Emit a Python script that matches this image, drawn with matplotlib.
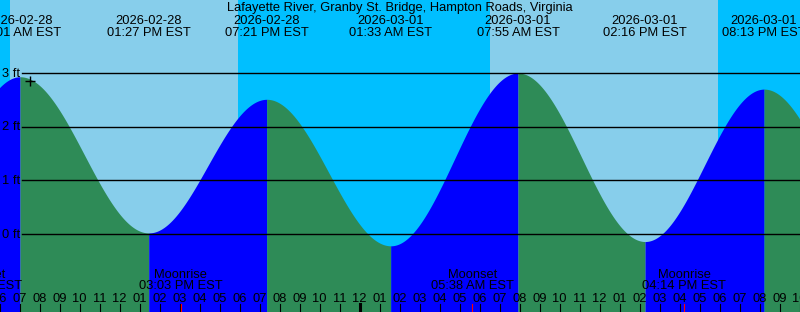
import numpy as np
import pandas as pd
import matplotlib
matplotlib.use("Agg")
import matplotlib.pyplot as plt

title = "Lafayette River, Granby St. Bridge, Hampton Roads, Virginia"

# tide extremes (first and last are off the chart, only used for the curve ends)
tide_times = ["2026-02-28 00:45", "2026-02-28 07:01", "2026-02-28 13:27",
              "2026-02-28 19:21", "2026-03-01 01:33", "2026-03-01 07:55",
              "2026-03-01 14:16", "2026-03-01 20:13", "2026-03-02 02:30"]
tide_heights = [-0.2, 2.93, 0.02, 2.51, -0.22, 3.0, -0.14, 2.70, -0.3]
tide_labelled = [False, True, True, True, True, True, True, True, False]

sunrises = ["2026-02-28 06:31", "2026-03-01 06:30"]
sunsets = ["2026-02-28 17:55", "2026-03-01 17:56"]

moon_times = ["2026-02-28 05:04", "2026-02-28 15:03",
              "2026-03-01 05:38", "2026-03-01 16:14"]
moon_kinds = ["Moonset", "Moonrise", "Moonset", "Moonrise"]

ft_levels = [0, 1, 2, 3]
now_time = "2026-02-28 07:31"
now_height = 2.86

origin = pd.Timestamp("2026-02-28 00:00")


def hrs(s):
    return (pd.Timestamp(s) - origin).total_seconds() / 3600


W, H = 800, 312
x_left = 6.015
x_right = x_left + 40
y_bot, y_top = -1.453, 4.36

day_col = "#87CEEB"
night_col = "#00BFFF"
flood_col = "#0000FF"
ebb_col = "#2E8B57"

plt.rcParams['font.family'] = ['Liberation Sans', 'DejaVu Sans']
fs = 9.3

fig = plt.figure(figsize=(W / 100, H / 100), dpi=100)
ax = fig.add_axes([0, 0, 1, 1])
ax.set_xlim(x_left, x_right)
ax.set_ylim(y_bot, y_top)
ax.axis("off")
fig.patch.set_facecolor(day_col)

# night shading
rise_h = [hrs(s) for s in sunrises]
set_h = [hrs(s) for s in sunsets]
starts = [x_left] + set_h
ends = rise_h + [x_right]
for a, b in zip(starts, ends):
    ax.axvspan(a, b, color=night_col, lw=0, zorder=0)

# tide curve, one segment per rise/fall
th = [hrs(s) for s in tide_times]
for i in range(len(th) - 1):
    t1, t2 = th[i], th[i + 1]
    h1, h2 = tide_heights[i], tide_heights[i + 1]
    t = np.linspace(t1, t2, 300)
    h = (h1 + h2) / 2 + (h1 - h2) / 2 * np.cos(np.pi * (t - t1) / (t2 - t1))
    col = flood_col if h2 > h1 else ebb_col
    ax.fill_between(t, y_bot, h, color=col, lw=0, zorder=1)

# foot lines and labels
for lv in ft_levels:
    ax.axhline(lv, xmin=22 / W, xmax=1, color="black", lw=1.0, zorder=3)
    ax.text(20 / W, lv - 0.07, f"{lv} ft", transform=ax.get_yaxis_transform(),
            ha="right", va="baseline", fontsize=fs, zorder=4)

ax.plot(hrs(now_time), now_height, marker="+", color="black", ms=7, mew=1.0, zorder=4)

xt = ax.get_xaxis_transform()

ax.text(0.5, 1 - 11.5 / H, title, transform=ax.transAxes, ha="center",
        va="baseline", fontsize=fs)

# tide event labels
for s, show in zip(tide_times, tide_labelled):
    if not show:
        continue
    ts = pd.Timestamp(s)
    ax.text(hrs(s), 1 - 24 / H, ts.strftime("%Y-%m-%d"), transform=xt,
            ha="center", va="baseline", fontsize=fs, zorder=5)
    ax.text(hrs(s), 1 - 36 / H, ts.strftime("%I:%M %p EST"), transform=xt,
            ha="center", va="baseline", fontsize=fs, zorder=5)

# moon events
for s, kind in zip(moon_times, moon_kinds):
    ts = pd.Timestamp(s)
    ax.text(hrs(s), 1 - 278.3 / H, kind, transform=xt, ha="center",
            va="baseline", fontsize=fs, zorder=5)
    ax.text(hrs(s), 1 - 289.3 / H, ts.strftime("%I:%M %p EST"), transform=xt,
            ha="center", va="baseline", fontsize=fs, zorder=5)
    ax.axvline(hrs(s), ymin=0, ymax=8 / H, color="red", lw=0.8, zorder=6)

# hour ticks
for hr in range(int(np.floor(x_left)), int(np.ceil(x_right)) + 1):
    stamp = origin + pd.Timedelta(hours=hr)
    lw = 2.2 if stamp.hour == 0 else 0.8
    ax.axvline(hr, ymin=0, ymax=8 / H, color="black", lw=lw, zorder=5)
    ax.text(hr, 1 - 301.7 / H, stamp.strftime("%I"), transform=xt,
            ha="center", va="baseline", fontsize=fs, zorder=5)

fig.savefig("out.png", dpi=100, facecolor=day_col)
